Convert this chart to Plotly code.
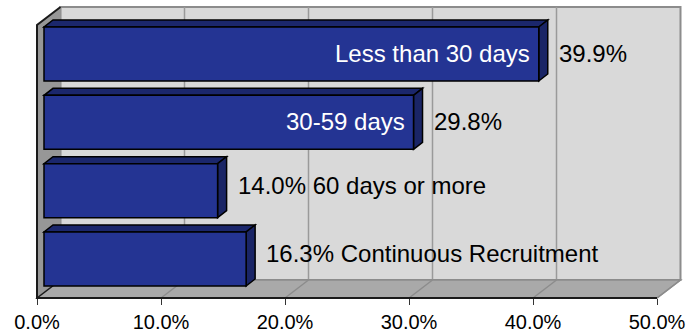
import plotly.graph_objects as go

# ---- data -------------------------------------------------------------
categories = ["Less than 30 days", "30-59 days", "60 days or more", "Continuous Recruitment"]
values = [39.9, 29.8, 14.0, 16.3]
tick_values = [0, 10, 20, 30, 40, 50]
tick_labels = ["0.0%", "10.0%", "20.0%", "30.0%", "40.0%", "50.0%"]

# ---- canvas / scale ----------------------------------------------------
W, H = 698, 336
PX_X = 12.4            # pixels per percentage point
ZERO_PX = 37           # pixel column of 0 %
PX_Y = 68.33           # pixels per category slot
TOP_BAR_PX = 54        # pixel row of the first bar's centre

x_lo = -ZERO_PX / PX_X
x_hi = (W - ZERO_PX) / PX_X
n = len(categories)
pos = [n - 1 - i for i in range(n)]          # first category on top
y_hi = (n - 1) + TOP_BAR_PX / PX_Y
y_lo = y_hi - H / PX_Y


def dx(px):
    return px / PX_X


def dy(px):
    return px / PX_Y


X_MAX = tick_values[-1]
FLOOR_PX = 298
FLOOR_Y = y_hi - dy(FLOOR_PX)              # front edge of the floor
WALL_TOP_Y = y_hi - dy(25)                 # front top corner of the side wall
DEPTH_X, DEPTH_Y = dx(23.5), dy(18)        # perspective offset of the box
BAR_X0 = dx(7)                             # bars sit slightly inside the box
BAR_DX, BAR_DY = dx(9), dy(7)              # bar depth
BAR_W = dy(54)

FONT = "Liberation Sans, Arial, sans-serif"
BLUE_FRONT = "#243493"
BLUE_TOP = "#1b276c"
BLUE_SIDE = "#1a2566"
GRID = "#9a9a9a"

shapes = []

# back wall
shapes.append(dict(type="rect", xref="x", yref="y", layer="below",
                   x0=DEPTH_X, x1=X_MAX + DEPTH_X,
                   y0=FLOOR_Y + DEPTH_Y, y1=WALL_TOP_Y + DEPTH_Y,
                   fillcolor="#d9d9d9", line=dict(color="#8c8c8c", width=2)))
# gridlines on the back wall
for t in tick_values[1:-1]:
    shapes.append(dict(type="line", xref="x", yref="y", layer="below",
                       x0=t + DEPTH_X, x1=t + DEPTH_X,
                       y0=FLOOR_Y + DEPTH_Y, y1=WALL_TOP_Y + DEPTH_Y,
                       line=dict(color=GRID, width=1.5)))
# side wall
shapes.append(dict(type="path", xref="x", yref="y", layer="below",
                   path=(f"M0,{FLOOR_Y} L0,{WALL_TOP_Y} "
                         f"L{DEPTH_X},{WALL_TOP_Y + DEPTH_Y} L{DEPTH_X},{FLOOR_Y + DEPTH_Y} Z"),
                   fillcolor="#979797", line=dict(width=0)))
# floor
shapes.append(dict(type="path", xref="x", yref="y", layer="below",
                   path=(f"M0,{FLOOR_Y} L{X_MAX},{FLOOR_Y} "
                         f"L{X_MAX + DEPTH_X},{FLOOR_Y + DEPTH_Y} L{DEPTH_X},{FLOOR_Y + DEPTH_Y} Z"),
                   fillcolor="#a9a9a9", line=dict(color="#8c8c8c", width=1.5)))
# gridlines across the floor
for t in tick_values[1:]:
    shapes.append(dict(type="line", xref="x", yref="y", layer="below",
                       x0=t, x1=t + DEPTH_X, y0=FLOOR_Y, y1=FLOOR_Y + DEPTH_Y,
                       line=dict(color="#8c8c8c", width=1.5)))
# dark edges of the side wall and floor
edge = dict(color="#1a1a1a", width=2)
shapes.append(dict(type="path", xref="x", yref="y", layer="below",
                   path=f"M{DEPTH_X},{WALL_TOP_Y + DEPTH_Y} L0,{WALL_TOP_Y} L0,{FLOOR_Y} L{X_MAX},{FLOOR_Y}",
                   line=edge))
shapes.append(dict(type="line", xref="x", yref="y", layer="below",
                   x0=0, x1=DEPTH_X, y0=FLOOR_Y, y1=FLOOR_Y + DEPTH_Y,
                   line=dict(color="#1a1a1a", width=1.5)))

# top and side faces of each bar
bar_edge = dict(color="black", width=1.5)
for v, p in zip(values, pos):
    x_a, x_b = BAR_X0, BAR_X0 + v
    y_a, y_b = p - BAR_W / 2, p + BAR_W / 2
    shapes.append(dict(type="path", xref="x", yref="y", layer="below",
                       path=(f"M{x_a},{y_b} L{x_b},{y_b} L{x_b + BAR_DX},{y_b + BAR_DY} "
                             f"L{x_a + BAR_DX},{y_b + BAR_DY} Z"),
                       fillcolor=BLUE_TOP, line=bar_edge))
    shapes.append(dict(type="path", xref="x", yref="y", layer="below",
                       path=(f"M{x_b},{y_a} L{x_b + BAR_DX},{y_a + BAR_DY} "
                             f"L{x_b + BAR_DX},{y_b + BAR_DY} L{x_b},{y_b} Z"),
                       fillcolor=BLUE_SIDE, line=bar_edge))

fig = go.Figure(go.Bar(
    orientation="h", y=pos, x=values, base=[BAR_X0] * n, width=BAR_W,
    marker=dict(color=BLUE_FRONT, line=bar_edge),
    hoverinfo="skip",
))

# data labels: value beside the bar, category inside when it fits
annotations = []
for cat, v, p in zip(categories, values, pos):
    inside = v >= 25
    lift = 1 if inside else 5
    annotations.append(dict(
        x=v, y=p, xref="x", yref="y", xanchor="left", yanchor="middle",
        xshift=25, yshift=lift, showarrow=False,
        text=f"{v:.1f}%" if inside else f"{v:.1f}% {cat}",
        font=dict(family=FONT, size=24, color="black")))
    if inside:
        annotations.append(dict(
            x=BAR_X0 + v, y=p, xref="x", yref="y", xanchor="right", yanchor="middle",
            xshift=-7, yshift=lift, showarrow=False, text=cat,
            font=dict(family=FONT, size=24, color="white")))

fig.update_layout(
    width=W, height=H,
    margin=dict(l=0, r=0, t=0, b=0),
    paper_bgcolor="white", plot_bgcolor="white",
    showlegend=False,
    shapes=shapes,
    annotations=annotations,
    xaxis=dict(range=[x_lo, x_hi], anchor="free", position=(H - FLOOR_PX) / H,
               tickvals=tick_values, ticktext=tick_labels,
               ticks="outside", ticklen=6, tickwidth=1, tickcolor="#333333",
               tickfont=dict(family=FONT, size=20, color="black"),
               showgrid=False, zeroline=False, showline=False, fixedrange=True),
    yaxis=dict(range=[y_lo, y_hi], showticklabels=False, ticks="",
               showgrid=False, zeroline=False, showline=False, fixedrange=True),
)

fig.write_html("out.html")
